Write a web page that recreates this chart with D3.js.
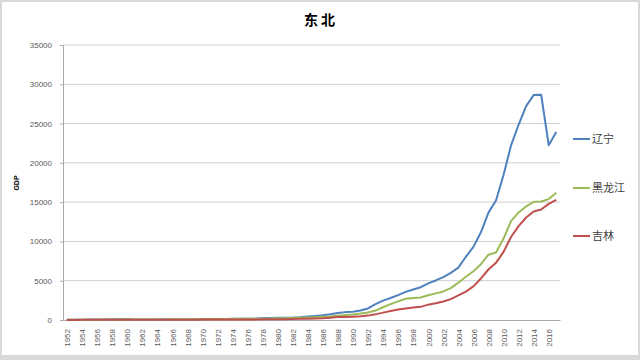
<!DOCTYPE html>
<html><head><meta charset="utf-8">
<script src="https://cdn.jsdelivr.net/npm/d3@7"></script>
<style>html,body{margin:0;padding:0;background:#d9d9d9;}svg{display:block;}</style>
</head><body>
<svg id="c" width="640" height="360"></svg>
<script>
const years = d3.range(1952, 2018);
const liaoning = [34,42,47,49,58,62,85,108,119,74,64,66,74,80,89,74,73,87,110,124,132,143,144,155,156,178,229,245,281,289,315,364,438,519,606,720,881,1003,1063,1200,1473,2011,2462,2793,3158,3582,3882,4172,4669,5033,5458,6003,6672,8047,9305,11164,13669,15212,18457,22227,24846,27213,28627,28669,22247,23942];
const heilongjiang = [30,34,37,40,45,49,63,75,81,59,57,61,67,77,85,80,80,87,108,116,120,130,136,144,147,157,175,187,221,229,249,277,318,355,401,455,552,630,715,823,960,1199,1618,2015,2370,2709,2799,2867,3151,3390,3637,4057,4751,5512,6212,7104,8314,8587,10369,12582,13692,14455,15039,15084,15386,16200];
const jilin = [13,15,17,19,22,21,27,31,34,28,29,31,34,37,40,38,36,42,51,55,55,59,60,66,66,72,82,91,99,111,121,151,174,200,227,297,368,392,425,463,558,718,937,1137,1346,1464,1577,1673,1952,2120,2349,2662,3122,3620,4275,5285,6426,7279,8668,10569,11939,13046,13803,14063,14777,15289];
const seriesNames = ["辽宁","黑龙江","吉林"];
const seriesColors = ["#4F81BD","#9BBB59","#C0504D"];
const seriesData = [liaoning, heilongjiang, jilin];
const yTicks = [0,5000,10000,15000,20000,25000,30000,35000];
const title = "东北";
const yLabel = "GDP";

const svg = d3.select("#c");
svg.append("rect").attr("x",2).attr("y",2).attr("width",636).attr("height",353).attr("fill","#fff");

const x = d3.scalePoint().domain(years).range([63,560]).padding(0.5);
const y = d3.scaleLinear().domain([0,35000]).range([320,45]);

svg.append("text").attr("x",321).attr("y",25).attr("text-anchor","middle").attr("letter-spacing","3px")
  .attr("font-family","'Noto Sans CJK SC'").attr("font-weight","bold").attr("font-size",14).attr("fill","#000").text(title);

// grid
svg.append("g").selectAll("line").data(yTicks.filter(d=>d>0)).join("line")
  .attr("x1",63).attr("x2",560).attr("y1",d=>y(d)).attr("y2",d=>y(d))
  .attr("stroke","#cfcfcf").attr("stroke-width",1);

const ya = svg.append("g").attr("transform","translate(63,0)")
  .call(d3.axisLeft(y).tickValues(yTicks).tickSize(3).tickPadding(8).tickFormat(d3.format("d")));
ya.select(".domain").attr("stroke","#aaaaaa");
ya.selectAll(".tick line").attr("stroke","#aaaaaa");
ya.selectAll("text").attr("font-family","'Liberation Sans',Arial").attr("font-size",8).attr("fill","#595959");

const xa = svg.append("g").attr("transform","translate(0,320)")
  .call(d3.axisBottom(x).tickValues(years.filter(d=>(d-1952)%2===0)).tickSize(0).tickPadding(0));
xa.select(".domain").attr("stroke","#aaaaaa");
xa.selectAll("text").attr("font-family","'Liberation Sans',Arial").attr("font-size",8).attr("fill","#595959")
  .attr("text-anchor","end").attr("dy","0.35em").attr("transform","translate(0,9) rotate(-90)").attr("x",0).attr("y",0);

svg.append("text").attr("transform","translate(19,183) rotate(-90)").attr("text-anchor","middle")
  .attr("font-family","'Liberation Sans',Arial").attr("font-weight","bold").attr("font-size",7).attr("fill","#000").text(yLabel);

const line = d3.line().x((d,i)=>x(years[i])).y(d=>y(d));
seriesData.forEach((s,k)=>{
  svg.append("path").datum(s).attr("d",line).attr("fill","none")
    .attr("stroke",seriesColors[k]).attr("stroke-width",2).attr("stroke-linejoin","round");
});

const legY = [139,188,236];
seriesNames.forEach((n,k)=>{
  svg.append("line").attr("x1",573).attr("x2",590).attr("y1",legY[k]).attr("y2",legY[k])
    .attr("stroke",seriesColors[k]).attr("stroke-width",2);
  svg.append("text").attr("x",592).attr("y",legY[k]).attr("dy","0.35em")
    .attr("font-family","'Noto Sans CJK SC'").attr("font-size",11).attr("fill","#404040").text(n);
});
</script>
</body></html>
